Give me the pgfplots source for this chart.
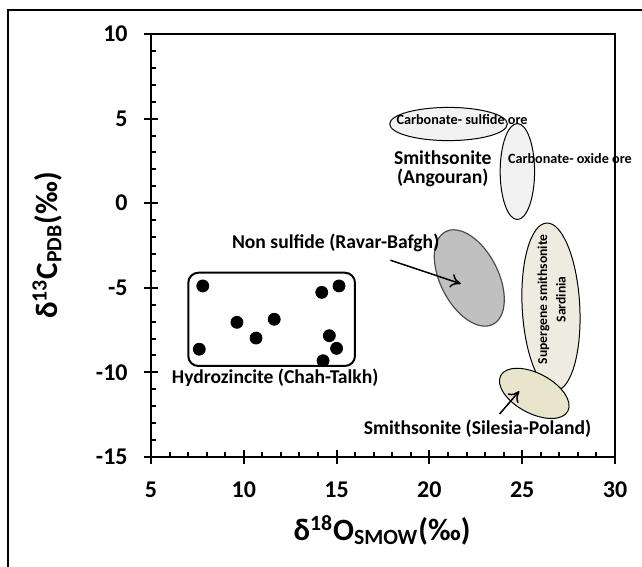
\documentclass[border=0pt]{standalone}
\usepackage{fontspec}
\setmainfont{Carlito}
\usepackage{pgfplots}
\pgfplotsset{compat=1.18}
\usetikzlibrary{arrows.meta}
\definecolor{lgray}{HTML}{F2F2F2}
\definecolor{mgray}{HTML}{C0C0C0}
\definecolor{dgray}{HTML}{4D4D4D}
\definecolor{tanA}{HTML}{EEECE1}
\definecolor{tanB}{HTML}{E9E4CC}
\begin{document}
\begin{tikzpicture}
\useasboundingbox (0,0) rectangle (321pt,283.5pt);
\draw[line width=1pt] (3.75pt,-10pt) -- (3.75pt,278.5pt) -- (340pt,278.5pt);
\begin{axis}[
  at={(75.5pt,55pt)}, anchor=south west,
  width=232pt, height=211.5pt, scale only axis,
  xmin=5, xmax=30, ymin=-15, ymax=10,
  xtick={5,10,...,30}, ytick={-15,-10,...,10},
  minor x tick num=4, minor y tick num=4,
  xtick pos=left, ytick pos=left,
  tick align=inside,
  major tick length=7pt, minor tick length=2.5pt,
  every major x tick/.append style={yshift=-3.5pt},
  every major y tick/.append style={xshift=-3.5pt},
  axis line style={line width=1pt},
  tick style={line width=1pt, black},
  /pgf/number format/assume math mode=true,
  xticklabel style={font=\bfseries\fontsize{12}{14}\selectfont, anchor=center, inner sep=0pt, yshift=-16.5pt},
  yticklabel style={font=\bfseries\fontsize{12}{14}\selectfont, anchor=east, inner sep=0pt, xshift=-11.5pt},
  xlabel={δ\textsuperscript{18}O\textsubscript{SMOW}(‰)},
  ylabel={δ\textsuperscript{13}C\textsubscript{PDB}(‰)},
  xlabel style={font=\bfseries\fontsize{15.5}{18}\selectfont, at={(axis description cs:0.498,-0.173)}, anchor=center},
  ylabel style={font=\bfseries\fontsize{15.5}{18}\selectfont, at={(axis description cs:-0.224,0.5)}, anchor=center},
  clip=false,
]
% ellipses
\draw[fill=lgray, draw=black, line width=0.5pt] (axis cs:21.03,4.68) ellipse [x radius=29.4pt, y radius=8.3pt];
\draw[fill=lgray, draw=black, line width=0.5pt] (axis cs:24.74,1.87) ellipse [x radius=8.6pt, y radius=24pt];
\draw[fill=mgray, draw=dgray, line width=0.6pt, rotate around={-63:(axis cs:22.15,-4.42)}] (axis cs:22.15,-4.42) ellipse [x radius=26pt, y radius=14.5pt];
\draw[fill=tanA, draw=black, line width=0.5pt, rotate around={3:(axis cs:26.55,-6.13)}] (axis cs:26.55,-6.13) ellipse [x radius=14.4pt, y radius=42pt];
\draw[fill=tanB, draw=black, line width=0.5pt, rotate around={-28:(axis cs:25.65,-11.24)}] (axis cs:25.65,-11.24) ellipse [x radius=19pt, y radius=10pt];
% rounded box
\draw[line width=1pt, rounded corners=5pt] (axis cs:7.01,-4.11) rectangle (axis cs:15.99,-9.62);
% points
\addplot[only marks, mark=*, mark size=3pt, black] coordinates {
(7.79,-4.89) (7.60,-8.63) (9.63,-7.04) (10.66,-7.97) (11.64,-6.86)
(14.20,-5.27) (15.13,-4.89) (14.61,-7.83) (15.00,-8.58) (14.27,-9.31)
};
% arrows
\draw[line width=0.75pt, -{To[length=5pt,width=7pt]}] (axis cs:17.90,-3.37) -- (axis cs:21.69,-4.76);
\draw[line width=0.75pt, -{To[length=5pt,width=7pt]}] (axis cs:23.78,-12.46) -- (axis cs:24.84,-11.11);
% labels
\node[font=\bfseries\fontsize{7.1}{8}\selectfont, inner sep=0pt] at (axis cs:21.76,4.96) {Carbonate- sulfide ore};
\node[font=\bfseries\fontsize{7.1}{8}\selectfont, inner sep=0pt] at (axis cs:27.57,2.61) {Carbonate- oxide ore};
\node[font=\bfseries\fontsize{9.8}{10.3}\selectfont, inner sep=0pt] at (axis cs:20.72,2.71) {Smithsonite};
\node[font=\bfseries\fontsize{9.8}{10.3}\selectfont, inner sep=0pt] at (axis cs:20.72,1.50) {(Angouran)};
\node[font=\bfseries\fontsize{9.8}{10}\selectfont, inner sep=0pt] at (axis cs:14.95,-2.37) {Non sulfide (Ravar-Bafgh)};
\node[font=\bfseries\fontsize{9.8}{10}\selectfont, inner sep=0pt] at (axis cs:11.69,-10.32) {Hydrozincite (Chah-Talkh)};
\node[font=\bfseries\fontsize{9.8}{10}\selectfont, inner sep=0pt] at (axis cs:22.59,-13.31) {Smithsonite (Silesia-Poland)};
\node[font=\bfseries\fontsize{6.8}{9.2}\selectfont, inner sep=0pt, align=center, rotate=90] at (axis cs:26.59,-5.68) {Supergene smithsonite\\Sardinia};
\end{axis}
\end{tikzpicture}
\end{document}
